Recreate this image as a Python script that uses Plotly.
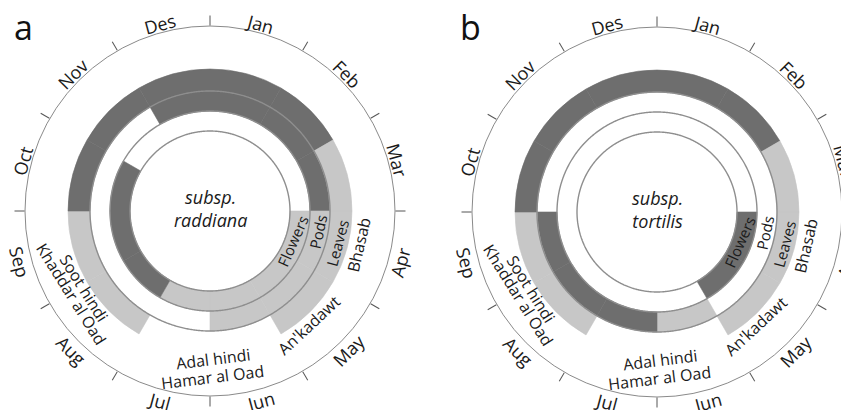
import math
import numpy as np
import plotly.graph_objects as go

# ---------------- data ----------------
MONTHS = ["Jan", "Feb", "Mar", "Apr", "May", "Jun", "Jul", "Aug", "Sep", "Oct", "Nov", "Des"]

# status per month: 0 = none, 1 = partial (light), 2 = main (dark)
A_FLOWERS = [0, 0, 0, 1, 1, 1, 1, 2, 2, 2, 0, 0]
A_PODS    = [2, 2, 2, 1, 1, 1, 0, 0, 0, 0, 0, 2]
A_LEAVES  = [2, 2, 1, 1, 1, 0, 0, 1, 1, 2, 2, 2]

B_FLOWERS = [0, 0, 0, 2, 2, 0, 0, 0, 0, 0, 0, 0]
B_PODS    = [0, 0, 0, 0, 0, 1, 2, 2, 2, 0, 0, 0]
B_LEAVES  = [2, 2, 1, 1, 1, 0, 0, 1, 1, 2, 2, 2]

RING_NAMES = ["Flowers", "Pods", "Leaves"]
SEASON_NAMES = ["Bhasab", "An'kadawt", "Adal hindi", "Hamar al Oad", "Soot hindi", "Khaddar al Oad"]
PANEL_TITLES = ["subsp.<br>raddiana", "subsp.<br>tortilis"]
PANEL_LETTERS = ["a", "b"]

# ---------------- layout constants ----------------
W, H = 849, 410
PAGE_OFFSET = 8          # default body margin of the html page
R_OUT = 185.0
RING_INNER = [80, 100, 120]
RING_WIDTH = [20, 20, 22]
CENTERS = [(210 - PAGE_OFFSET, 211 - PAGE_OFFSET), (657 - PAGE_OFFSET, 212 - PAGE_OFFSET)]
DARK = "#6e6e6e"
LIGHT = "#c7c7c7"
CIRCLE = "#8e8e8e"
FONT = "Open Sans"

# label placement (angle deg clockwise from top, radius, text rotation)
RING_LABEL_POS = [(110, 88, -66), (101, 110, -78), (104, 131, -75)]
SEASON_LABEL_POS = [(103, 153, -77), (139, 151, -43), (179, 148, -7),
                    (179, 166, -7), (238.5, 148, 58), (239, 162, 58)]


def to_paper(cx, cy, r, theta):
    t = math.radians(theta)
    x = cx + r * math.sin(t)
    y = cy - r * math.cos(t)
    return x / W, 1 - y / H


fig = go.Figure()
annotations = []
panels = [(A_FLOWERS, A_PODS, A_LEAVES), (B_FLOWERS, B_PODS, B_LEAVES)]

for p, (rings, (cx, cy)) in enumerate(zip(panels, CENTERS)):
    sub = "polar" if p == 0 else "polar2"
    for ring_idx, status in enumerate(rings):
        th, rr, bb, cc = [], [], [], []
        for m, s in enumerate(status):
            if s == 0:
                continue
            th.append(15 + 30 * m)
            rr.append(RING_WIDTH[ring_idx])
            bb.append(RING_INNER[ring_idx])
            cc.append(DARK if s == 2 else LIGHT)
        fig.add_trace(go.Barpolar(
            theta=th, r=rr, base=bb, width=[30] * len(th),
            marker=dict(color=cc, line=dict(color=cc, width=0.6)),
            subplot=sub, showlegend=False, hoverinfo="skip"))
    circ = np.linspace(0, 360, 721)
    for rad in RING_INNER:
        fig.add_trace(go.Scatterpolar(
            theta=circ, r=[rad] * len(circ), mode="lines",
            line=dict(color=CIRCLE, width=1.4), subplot=sub,
            showlegend=False, hoverinfo="skip"))

    dom_x = [(cx - R_OUT) / W, (cx + R_OUT) / W]
    dom_y = [1 - (cy + R_OUT) / H, 1 - (cy - R_OUT) / H]
    fig.update_layout(**{sub: dict(
        domain=dict(x=dom_x, y=dom_y),
        bgcolor="rgba(0,0,0,0)",
        radialaxis=dict(visible=False, range=[0, R_OUT]),
        angularaxis=dict(rotation=90, direction="clockwise",
                         tickmode="array", tickvals=list(range(0, 360, 30)),
                         ticks="outside", ticklen=10, tickcolor="#555555", tickwidth=1,
                         showticklabels=False, showgrid=False,
                         showline=True, linecolor="#8a8a8a", linewidth=1),
    )})

    # month labels (upper half: baseline toward centre, lower half: flipped)
    for m, name in enumerate(MONTHS):
        th = 15 + 30 * m
        upper = th < 90 or th > 270
        rot = (th if th < 90 else th - 360) if upper else th - 180
        r_lab = 194 if upper else 197
        x, y = to_paper(cx, cy, r_lab, th)
        annotations.append(dict(x=x, y=y, xref="paper", yref="paper", text=name,
                                showarrow=False, textangle=rot,
                                font=dict(family=FONT, size=18, color="#1a1a1a"),
                                xanchor="center", yanchor="middle"))
    # ring labels
    for name, (th, r, rot) in zip(RING_NAMES, RING_LABEL_POS):
        x, y = to_paper(cx, cy, r, th)
        annotations.append(dict(x=x, y=y, xref="paper", yref="paper", text=name,
                                showarrow=False, textangle=rot,
                                font=dict(family=FONT, size=15, color="#1a1a1a"),
                                xanchor="center", yanchor="middle"))
    # local season names
    for name, (th, r, rot) in zip(SEASON_NAMES, SEASON_LABEL_POS):
        x, y = to_paper(cx, cy, r, th)
        annotations.append(dict(x=x, y=y, xref="paper", yref="paper", text=name,
                                showarrow=False, textangle=rot,
                                font=dict(family=FONT, size=16, color="#1a1a1a"),
                                xanchor="center", yanchor="middle"))
    # centre title
    annotations.append(dict(x=cx / W, y=1 - (cy - 3) / H, xref="paper", yref="paper",
                            text="<i>" + PANEL_TITLES[p] + "</i>", showarrow=False,
                            font=dict(family=FONT, size=18, color="#1a1a1a"),
                            xanchor="center", yanchor="middle"))
    # panel letter
    annotations.append(dict(x=(cx - 187) / W, y=1 - (27 - PAGE_OFFSET) / H,
                            xref="paper", yref="paper",
                            text=PANEL_LETTERS[p], showarrow=False,
                            font=dict(family=FONT, size=34, color="#111111"),
                            xanchor="center", yanchor="middle"))

fig.update_layout(width=W, height=H, margin=dict(l=0, r=0, t=0, b=0),
                  paper_bgcolor="white", plot_bgcolor="white",
                  annotations=annotations, showlegend=False)

fig.write_html("out.html")
